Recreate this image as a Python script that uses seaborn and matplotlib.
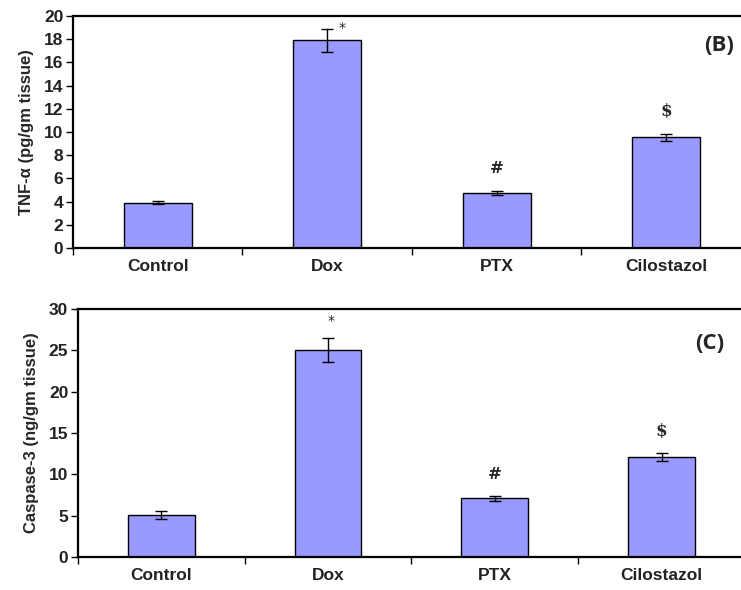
import matplotlib
matplotlib.use("Agg")
import matplotlib.pyplot as plt
import seaborn as sns
import pandas as pd
import numpy as np
from matplotlib.ticker import FixedLocator, NullFormatter

groups = ["Control", "Dox", "PTX", "Cilostazol"]

tnf_mean = [3.9, 17.9, 4.75, 9.55]
tnf_err = [0.15, 1.0, 0.15, 0.3]
tnf_marks = ["", "*", "#", "$"]

casp_mean = [5.1, 25.0, 7.1, 12.1]
casp_err = [0.5, 1.45, 0.3, 0.5]
casp_marks = ["", "*", "#", "$"]

sns.set_theme(style="white")
plt.rcParams["font.family"] = ["Liberation Sans", "DejaVu Sans"]

BAR = "#9999FF"

fig = plt.figure(figsize=(7.41, 5.9), dpi=100)
ax1 = fig.add_axes([0.0985, 0.5797, 0.915, 0.3932])
ax2 = fig.add_axes([0.1053, 0.0559, 0.900, 0.4203])


def panel(ax, means, errs, marks, ymax, ystep, ylabel, tag, sym_off, star_off,
          star_dx, tag_xy, labelpad):
    df = pd.DataFrame({"group": groups, "value": means})
    sns.barplot(data=df, x="group", y="value", color=BAR, saturation=1,
                width=0.4, edgecolor="black", linewidth=1.0, ax=ax)
    ax.errorbar(np.arange(len(groups)), means, yerr=errs, fmt="none",
                ecolor="black", elinewidth=1.0, capsize=4, capthick=1.0)
    for i, (m, e, s) in enumerate(zip(means, errs, marks)):
        if not s:
            continue
        if s == "*":
            ax.text(i + star_dx, m + e + star_off, s, ha="center", va="bottom",
                    fontsize=10, family=["DejaVu Sans"])
        else:
            ax.text(i, m + e + sym_off, s, ha="center", va="bottom",
                    fontsize=12, fontweight="bold", family=["DejaVu Serif"])
    ax.set_xlim(-0.5, 3.5)
    ax.set_ylim(0, ymax)
    ax.set_yticks(np.arange(0, ymax + 0.1, ystep))
    ax.set_xlabel("")
    ax.set_ylabel(ylabel, fontsize=12, fontweight="bold", labelpad=labelpad)
    ax.xaxis.set_minor_locator(FixedLocator([-0.5, 0.5, 1.5, 2.5, 3.5]))
    ax.xaxis.set_minor_formatter(NullFormatter())
    ax.tick_params(axis="x", which="major", length=0, labelsize=12.5, pad=8)
    ax.tick_params(axis="x", which="minor", length=5, width=1, direction="out",
                   color="black", bottom=True)
    ax.tick_params(axis="y", length=5, width=1, direction="out", color="black",
                   labelsize=12.5, pad=2, left=True)
    for lab in ax.get_xticklabels() + ax.get_yticklabels():
        lab.set_fontweight("bold")
        lab.set_color("#222222")
    ax.spines["right"].set_visible(False)
    for sp in ("left", "bottom", "top"):
        ax.spines[sp].set_color("black")
        ax.spines[sp].set_linewidth(1.6)
    ax.text(tag_xy[0], tag_xy[1], tag, transform=fig.transFigure, ha="right",
            va="center", fontsize=16, fontweight="bold", family=["Open Sans", "DejaVu Sans"])


panel(ax1, tnf_mean, tnf_err, tnf_marks, 20, 2, "TNF-α (pg/gm tissue)", "(B)",
      1.2, -0.5, 0.09, (0.990, 0.923), 7)
panel(ax2, casp_mean, casp_err, casp_marks, 30, 5, "Caspase-3 (ng/gm tissue)", "(C)",
      1.6, 1.3, 0.02, (0.978, 0.418), 7)

fig.savefig("out.png", dpi=100)
